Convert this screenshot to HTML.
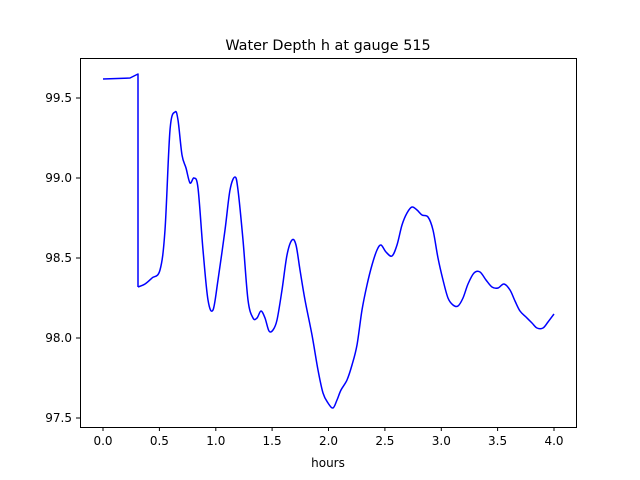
<!DOCTYPE html>
<html><head><meta charset="utf-8"><style>
html,body{margin:0;padding:0;background:#fff;}
svg{display:block;}
text{font-family:"DejaVu Sans","Liberation Sans",sans-serif;fill:#000;}
</style></head><body>
<svg width="640" height="480" viewBox="0 0 640 480" xmlns="http://www.w3.org/2000/svg">
<rect width="640" height="480" fill="#fff"/>
<text x="328" y="50" font-size="14.4" text-anchor="middle">Water Depth h at gauge 515</text>
<polyline id="p1" fill="none" stroke="#0000ff" stroke-width="1.5" stroke-linejoin="round" points="103,79 130,78 138,74 138,287"/>
<path id="p2" fill="none" stroke="#0000ff" stroke-width="1.5" stroke-linejoin="round" d=""/>
<rect x="80.5" y="58.5" width="496" height="369" fill="none" stroke="#000" stroke-width="1"/>
<g stroke="#000" stroke-width="1">
<line x1="103" y1="427" x2="103" y2="431"/><line x1="159.4" y1="427" x2="159.4" y2="431"/><line x1="215.8" y1="427" x2="215.8" y2="431"/><line x1="272.1" y1="427" x2="272.1" y2="431"/><line x1="328.5" y1="427" x2="328.5" y2="431"/><line x1="384.9" y1="427" x2="384.9" y2="431"/><line x1="441.3" y1="427" x2="441.3" y2="431"/><line x1="497.6" y1="427" x2="497.6" y2="431"/><line x1="554" y1="427" x2="554" y2="431"/>
<line x1="76" y1="98" x2="80" y2="98"/><line x1="76" y1="178" x2="80" y2="178"/><line x1="76" y1="258" x2="80" y2="258"/><line x1="76" y1="338" x2="80" y2="338"/><line x1="76" y1="418" x2="80" y2="418"/>
</g>
<g font-size="12" text-anchor="middle">
<text x="103" y="445">0.0</text><text x="159.4" y="445">0.5</text><text x="215.8" y="445">1.0</text><text x="272.1" y="445">1.5</text><text x="328.5" y="445">2.0</text><text x="384.9" y="445">2.5</text><text x="441.3" y="445">3.0</text><text x="497.6" y="445">3.5</text><text x="554" y="445">4.0</text>
<text x="328" y="467">hours</text>
</g>
<g font-size="12" text-anchor="end">
<text x="72" y="102">99.5</text><text x="72" y="182">99.0</text><text x="72" y="262">98.5</text><text x="72" y="342">98.0</text><text x="72" y="422">97.5</text>
</g>
</svg>
<script>
var s="138,287 145,284 152,278 160,270 165,230 170,130 175,112 178,120 182,155 186,168 190,183 194,178 198,188 203,250 208,300 213,310 218,280 225,230 230,190 235,177 238,190 243,240 248,300 253,318 257,318 261,311 265,318 269,331 273,330 277,320 282,290 287,255 292,240 296,245 300,270 305,300 312,335 318,370 323,393 328,403 333,408 337,400 341,390 347,380 352,365 357,345 362,310 367,285 372,265 377,250 381,245 386,252 392,256 397,245 402,225 407,213 412,207 417,210 422,215 428,217 433,230 438,258 443,280 448,298 453,305 458,306 463,298 468,284 474,273 480,272 486,280 492,287 498,288 504,284 510,290 515,301 520,311 526,317 532,323 537,328 543,328 548,322 554,314";
var p=s.split(" ").map(function(t){return t.split(",").map(Number);});
var d="M"+p[0][0]+","+p[0][1];
for(var i=0;i<p.length-1;i++){
 var p0=p[Math.max(i-1,0)],p1=p[i],p2=p[i+1],p3=p[Math.min(i+2,p.length-1)];
 var c1x=p1[0]+(p2[0]-p0[0])/6,c1y=p1[1]+(p2[1]-p0[1])/6;
 var c2x=p2[0]-(p3[0]-p1[0])/6,c2y=p2[1]-(p3[1]-p1[1])/6;
 d+=" C"+c1x.toFixed(2)+","+c1y.toFixed(2)+" "+c2x.toFixed(2)+","+c2y.toFixed(2)+" "+p2[0]+","+p2[1];
}
document.getElementById("p2").setAttribute("d",d);
</script>
</body></html>
